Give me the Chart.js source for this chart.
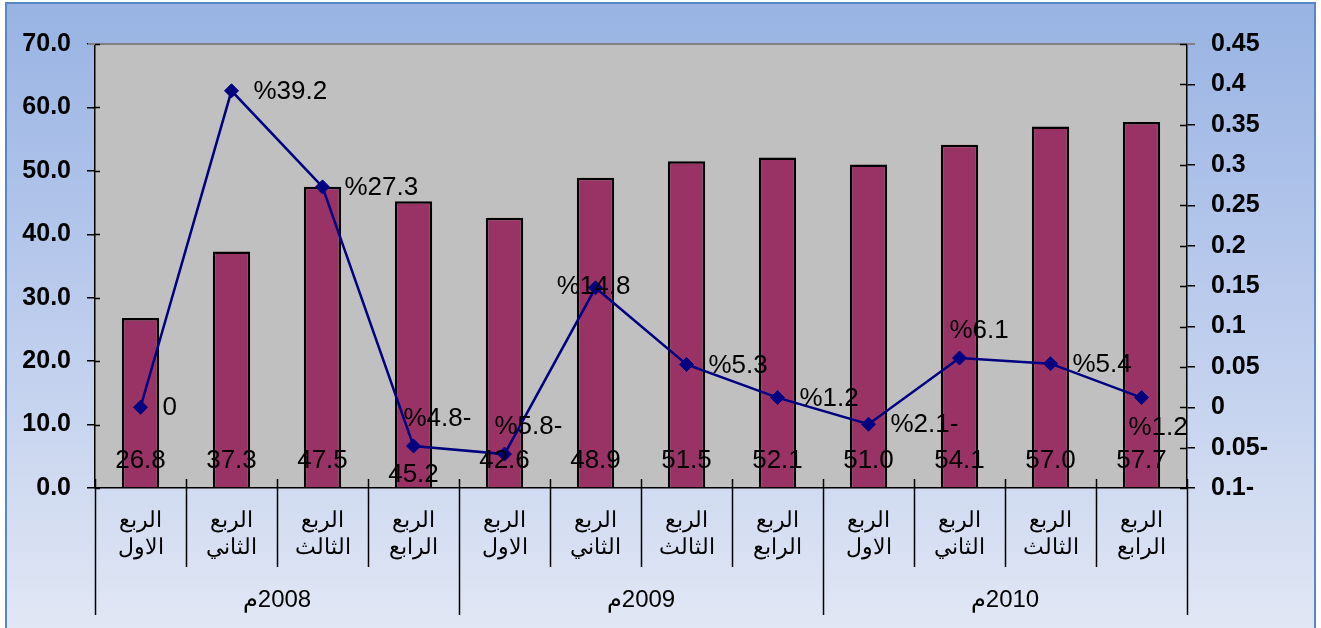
<!DOCTYPE html>
<html lang="ar">
<head>
    <meta charset="UTF-8">
    <title>المبيعات الربعية ونسبة النمو</title>
    <script src="https://cdn.jsdelivr.net/npm/chart.js@4.4.1/dist/chart.umd.min.js"></script>
    <style>
        html, body { margin: 0; padding: 0; background: #ffffff; }
        #wrap { width: 1321px; height: 628px; position: relative; }
    </style>
</head>
<body>
    <div id="wrap"><canvas id="salesChart"></canvas></div>

    <script>
        // quarters and years for the two-level category axis
        const quarterLabels = [
            ['الربع', 'الاول'],
            ['الربع', 'الثاني'],
            ['الربع', 'الثالث'],
            ['الربع', 'الرابع']
        ];
        const years = ['2008م', '2009م', '2010م'];

        // bar series (left axis)
        const salesValues = [26.8, 37.3, 47.5, 45.2, 42.6, 48.9, 51.5, 52.1, 51.0, 54.1, 57.0, 57.7];
        // line series (right axis), quarter-on-quarter growth
        const growthRates = [0, 0.392, 0.273, -0.048, -0.058, 0.148, 0.053, 0.012, -0.021, 0.061, 0.054, 0.012];

        // where each growth label sits relative to its marker
        const growthLabelPlace = ['right', 'right', 'right', 'above', 'above', 'center',
                                  'right', 'right', 'right', 'above', 'right', 'below'];

        const categories = years.flatMap(() => quarterLabels);

        const FONT = 'Arial, "Liberation Sans", sans-serif';

        function growthText(v) {
            if (v === 0) return '0';
            return '%' + Math.abs(v * 100).toFixed(1) + (v < 0 ? '-' : '');
        }

        function rightTick(v) {
            const r = Math.round(v * 100) / 100;
            if (r === 0) return '0';
            return Math.abs(r).toString() + (r < 0 ? '-' : '');
        }

        const backdrop = {
            id: 'backdrop',
            beforeDraw(chart) {
                const { ctx, chartArea: a } = chart;
                ctx.save();
                ctx.fillStyle = '#ffffff';
                ctx.fillRect(0, 0, chart.width, chart.height);
                const g = ctx.createLinearGradient(0, 3, 0, chart.height);
                g.addColorStop(0, '#98b3e3');
                g.addColorStop(0.5, '#bccced');
                g.addColorStop(1, '#e1e7f4');
                ctx.fillStyle = g;
                ctx.fillRect(6, 3, 1309, chart.height + 10);
                ctx.strokeStyle = '#5a86c6';
                ctx.lineWidth = 2;
                ctx.strokeRect(6, 3, 1309, chart.height + 10);
                ctx.fillStyle = '#c0c0c0';
                ctx.fillRect(a.left, a.top, a.right - a.left, a.bottom - a.top);
                ctx.restore();
            },
            beforeDatasetsDraw(chart) {
                const { ctx, chartArea: a } = chart;
                ctx.save();
                ctx.strokeStyle = '#808080';
                ctx.lineWidth = 2;
                ctx.beginPath();
                ctx.moveTo(a.left - 7, a.top);
                ctx.lineTo(a.right + 8, a.top);
                ctx.stroke();
                // short inner ticks crossing the value axes
                ctx.strokeStyle = '#000000';
                ctx.lineWidth = 1.5;
                const y = chart.scales.y, y1 = chart.scales.y1;
                y.ticks.forEach(t => {
                    const py = Math.round(y.getPixelForValue(t.value)) + 0.5;
                    ctx.beginPath();
                    ctx.moveTo(a.left, py);
                    ctx.lineTo(a.left + 5, py);
                    ctx.stroke();
                });
                y1.ticks.forEach(t => {
                    const py = Math.round(y1.getPixelForValue(t.value)) + 0.5;
                    ctx.beginPath();
                    ctx.moveTo(a.right - 7, py);
                    ctx.lineTo(a.right, py);
                    ctx.stroke();
                });
                ctx.restore();
            }
        };

        // category separators and the year row under the quarter labels
        const groupAxis = {
            id: 'groupAxis',
            afterDraw(chart) {
                const { ctx, chartArea: a } = chart;
                const x = chart.scales.x;
                const w = (x.right - x.left) / categories.length;
                ctx.save();
                ctx.strokeStyle = '#000000';
                ctx.lineWidth = 1.5;
                for (let k = 0; k <= categories.length; k++) {
                    const px = Math.round(x.left + k * w) + 0.5;
                    const yearEdge = k % quarterLabels.length === 0;
                    ctx.beginPath();
                    ctx.moveTo(px, a.bottom - 9);
                    ctx.lineTo(px, yearEdge ? 615 : 567);
                    ctx.stroke();
                }
                ctx.fillStyle = '#000000';
                ctx.font = '24px ' + FONT;
                ctx.textAlign = 'center';
                ctx.textBaseline = 'middle';
                ctx.direction = 'rtl';
                years.forEach((y, i) => {
                    const n = quarterLabels.length;
                    const cx = x.left + (i * n + n / 2) * w;
                    ctx.fillText(y, cx, 600);
                });
                ctx.restore();
            }
        };

        const valueLabels = {
            id: 'valueLabels',
            afterDatasetsDraw(chart) {
                const { ctx, chartArea: a } = chart;
                ctx.save();
                ctx.fillStyle = '#000000';
                ctx.font = '26px ' + FONT;
                ctx.textBaseline = 'middle';

                // bar values at the inside base of each bar
                ctx.textAlign = 'center';
                chart.getDatasetMeta(0).data.forEach((bar, i) => {
                    const drop = i === 3 ? 14 : 0;
                    ctx.fillText(salesValues[i].toFixed(1), bar.x, a.bottom - 27 + drop);
                });

                // growth values next to the markers
                chart.getDatasetMeta(1).data.forEach((pt, i) => {
                    const txt = growthText(growthRates[i]);
                    const place = growthLabelPlace[i];
                    if (place === 'right') {
                        ctx.textAlign = 'left';
                        ctx.fillText(txt, pt.x + 22, pt.y + 1);
                    } else if (place === 'above') {
                        ctx.textAlign = 'left';
                        ctx.fillText(txt, pt.x - 10, pt.y - 27);
                    } else if (place === 'below') {
                        ctx.textAlign = 'left';
                        ctx.fillText(txt, pt.x - 13, pt.y + 30);
                    } else {
                        ctx.textAlign = 'center';
                        ctx.fillText(txt, pt.x - 2, pt.y - 1);
                    }
                });
                ctx.restore();
            }
        };

        new Chart('salesChart', {
            data: {
                labels: categories,
                datasets: [
                    {
                        type: 'bar',
                        data: salesValues,
                        yAxisID: 'y',
                        backgroundColor: '#993366',
                        borderColor: '#000000',
                        borderWidth: 2.5,
                        borderSkipped: 'bottom',
                        categoryPercentage: 1,
                        barPercentage: 0.41,
                        order: 2
                    },
                    {
                        type: 'line',
                        data: growthRates,
                        yAxisID: 'y1',
                        borderColor: '#000080',
                        borderWidth: 2.5,
                        tension: 0,
                        pointStyle: 'rectRot',
                        pointRadius: 7,
                        pointBackgroundColor: '#000080',
                        pointBorderColor: '#000080',
                        pointBorderWidth: 1,
                        order: 1
                    }
                ]
            },
            options: {
                responsive: true,
                maintainAspectRatio: false,
                animation: false,
                layout: { padding: { top: 44, left: 0, right: 0, bottom: 0 } },
                plugins: {
                    legend: { display: false },
                    tooltip: { enabled: false }
                },
                scales: {
                    x: {
                        type: 'category',
                        grid: { display: false },
                        border: { color: '#000000', width: 1.5 },
                        ticks: {
                            color: '#000000',
                            font: { family: FONT, size: 22, lineHeight: 1.22 },
                            padding: 12,
                            maxRotation: 0,
                            autoSkip: false
                        },
                        afterFit(scale) { scale.height = 140; }
                    },
                    y: {
                        position: 'left',
                        min: 0,
                        max: 70,
                        grid: { drawOnChartArea: false, tickLength: 8, color: '#000000', lineWidth: 1.5 },
                        border: { color: '#000000', width: 1.5 },
                        ticks: {
                            stepSize: 10,
                            color: '#000000',
                            padding: 16,
                            font: { family: FONT, size: 25, weight: 'bold' },
                            callback: v => Number(v).toFixed(1)
                        },
                        afterFit(scale) { scale.width = 95; }
                    },
                    y1: {
                        position: 'right',
                        min: -0.1,
                        max: 0.45,
                        grid: { drawOnChartArea: false, tickLength: 8, color: '#000000', lineWidth: 1.5 },
                        border: { color: '#000000', width: 1.5 },
                        ticks: {
                            stepSize: 0.05,
                            color: '#000000',
                            padding: 16,
                            font: { family: FONT, size: 25, weight: 'bold' },
                            callback: v => rightTick(v)
                        },
                        afterFit(scale) { scale.width = 134; }
                    }
                }
            },
            plugins: [backdrop, groupAxis, valueLabels]
        });
    </script>
</body>
</html>
